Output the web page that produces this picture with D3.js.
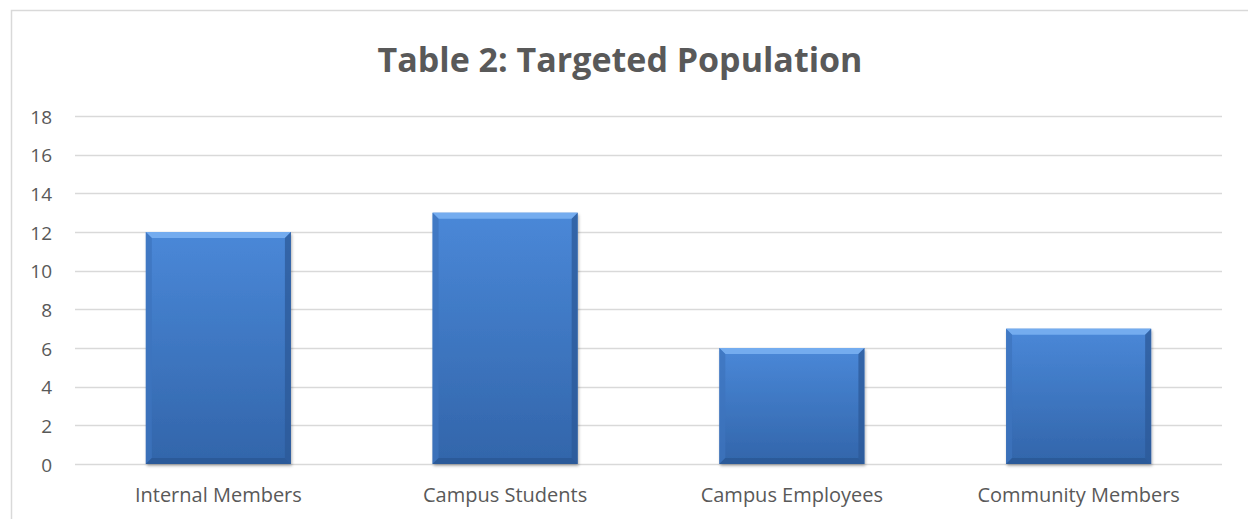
<!DOCTYPE html>
<html>
<head>
<meta charset="utf-8">
<script src="https://cdn.jsdelivr.net/npm/d3@7"></script>
<style>
  body { margin: 0; background: #fff; }
  svg { display: block; }
</style>
</head>
<body>
<svg width="1248" height="519"></svg>
<script>
// data
const categories = ["Internal Members", "Campus Students", "Campus Employees", "Community Members"];
const values = [12, 13, 6, 7];
const yTicks = [0, 2, 4, 6, 8, 10, 12, 14, 16, 18];
const titleText = "Table 2: Targeted Population";

var svg = d3.select("svg"),
  width = +svg.attr("width"),
  height = +svg.attr("height");

var margin = {top: 116, bottom: 55, left: 75, right: 26}
const font = "'Open Sans', 'Liberation Sans', sans-serif"

// chart area border (runs off the right / bottom of the picture)
svg.append("rect")
  .attr("x", 11.5).attr("y", 10.5)
  .attr("width", 1300).attr("height", 600)
  .attr("fill", "none")
  .attr("stroke", "#d9d9d9")
  .attr("stroke-width", 1.5)

var x = d3.scaleBand()
  .domain(categories)
  .range([margin.left, width - margin.right])
  .paddingInner(0.494)
  .paddingOuter(0.247)

var y = d3.scaleLinear()
  .domain([0, 18])
  .range([height - margin.bottom, margin.top])

// gridlines
svg.append("g").selectAll("line").data(yTicks)
  .enter().append("line")
  .attr("x1", margin.left).attr("x2", width - margin.right)
  .attr("y1", d => Math.round(y(d)) + 0.5).attr("y2", d => Math.round(y(d)) + 0.5)
  .attr("stroke", "#d9d9d9")
  .attr("stroke-width", 1.3)

// y tick labels
svg.append("g").selectAll("text").data(yTicks)
  .enter().append("text")
  .attr("x", 52)
  .attr("y", d => y(d) + 7.5)
  .attr("text-anchor", "end")
  .attr("fill", "#595959")
  .style("font-family", font)
  .style("font-size", "19px")
  .text(d => d)

// bar gradients
const defs = svg.append("defs")
const mainGrad = defs.append("linearGradient").attr("id", "barMain")
  .attr("x1", 0).attr("y1", 0).attr("x2", 0).attr("y2", 1)
mainGrad.append("stop").attr("offset", "0%").attr("stop-color", "#4a88d8")
mainGrad.append("stop").attr("offset", "100%").attr("stop-color", "#3265aa")

const shadow = defs.append("filter").attr("id", "shadow")
  .attr("x", "-10%").attr("y", "-10%").attr("width", "120%").attr("height", "120%")
shadow.append("feDropShadow")
  .attr("dx", 1).attr("dy", 2).attr("stdDeviation", 1.5)
  .attr("flood-color", "#000").attr("flood-opacity", 0.3)

const bev = 6
const bars = svg.append("g").selectAll("g").data(values)
  .enter().append("g")

bars.append("rect")
  .attr("x", (d, i) => x(categories[i]))
  .attr("y", d => y(d))
  .attr("width", x.bandwidth())
  .attr("height", d => y(0) - y(d))
  .attr("fill", "url(#barMain)")
  .attr("filter", "url(#shadow)")

// bevel edges
function edge(d, i, side) {
  const x0 = x(categories[i]), x1 = x0 + x.bandwidth()
  const y0 = y(d), y1 = y(0)
  if (side == "top") return [[x0, y0], [x1, y0], [x1 - bev, y0 + bev], [x0 + bev, y0 + bev]]
  if (side == "left") return [[x0, y0], [x0 + bev, y0 + bev], [x0 + bev, y1 - bev], [x0, y1]]
  if (side == "right") return [[x1, y0], [x1 - bev, y0 + bev], [x1 - bev, y1 - bev], [x1, y1]]
  return [[x0, y1], [x0 + bev, y1 - bev], [x1 - bev, y1 - bev], [x1, y1]]
}
const edgeColors = {top: "#79b0f2", left: "#3d74bd", right: "#2c5a98", bottom: "#2a5793"}
Object.keys(edgeColors).forEach(side => {
  bars.append("polygon")
    .attr("points", (d, i) => edge(d, i, side).map(p => p.join(",")).join(" "))
    .attr("fill", edgeColors[side])
    .attr("opacity", side == "top" ? 0.9 : 0.75)
})

// category labels
svg.append("g").selectAll("text").data(categories)
  .enter().append("text")
  .attr("x", d => x(d) + x.bandwidth() / 2)
  .attr("y", 502)
  .attr("text-anchor", "middle")
  .attr("fill", "#595959")
  .style("font-family", font)
  .style("font-size", "20px")
  .text(d => d)

// title
svg.append("text")
  .attr("x", 620)
  .attr("y", 72)
  .attr("text-anchor", "middle")
  .attr("fill", "#595959")
  .style("font-family", font)
  .style("font-weight", "bold")
  .style("font-size", "34px")
  .text(titleText)
</script>
</body>
</html>
